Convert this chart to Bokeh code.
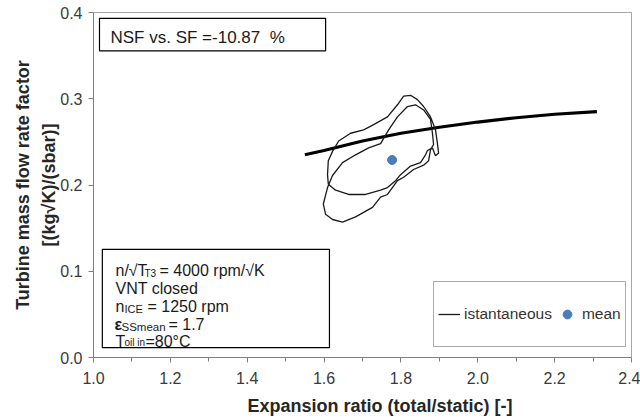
from bokeh.plotting import figure
from bokeh.models import (Label, BoxAnnotation, Legend, LegendItem, Range1d,
                          FixedTicker, NumeralTickFormatter)
from bokeh.embed import file_html
from bokeh.resources import INLINE

# ---- data ----
# steady-flow (SF) characteristic curve
sf_x = [1.55, 1.60, 1.70, 1.80, 1.90, 2.00, 2.10, 2.20, 2.31]
sf_y = [0.235, 0.240, 0.251, 0.260, 0.267, 0.273, 0.278, 0.282, 0.285]

# instantaneous loop (two engine cycles)
loop_x = [1.882, 1.869, 1.864, 1.851, 1.825, 1.799, 1.786, 1.765, 1.747, 1.708,
          1.664, 1.630, 1.611, 1.609, 1.611, 1.622, 1.638, 1.669, 1.703, 1.729,
          1.765, 1.791, 1.807, 1.825, 1.843, 1.859, 1.877, 1.890, 1.895, 1.898,
          1.890, 1.882,
          1.877, 1.872, 1.859, 1.833, 1.807, 1.791, 1.765, 1.747, 1.726, 1.682,
          1.648, 1.622, 1.604, 1.598, 1.609, 1.622, 1.648, 1.682, 1.716, 1.747,
          1.768, 1.791, 1.817, 1.838, 1.859, 1.877, 1.882, 1.885, 1.877]
loop_y = [0.243, 0.240, 0.235, 0.226, 0.222, 0.212, 0.205, 0.197, 0.194, 0.189,
          0.189, 0.194, 0.201, 0.212, 0.228, 0.239, 0.251, 0.260, 0.264, 0.270,
          0.279, 0.293, 0.303, 0.304, 0.299, 0.291, 0.279, 0.264, 0.248, 0.237,
          0.234, 0.243,
          0.241, 0.228, 0.223, 0.218, 0.209, 0.205, 0.189, 0.186, 0.174, 0.163,
          0.157, 0.160, 0.166, 0.178, 0.197, 0.211, 0.226, 0.235, 0.243, 0.248,
          0.264, 0.279, 0.291, 0.293, 0.287, 0.276, 0.260, 0.247, 0.241]

mean_x = [1.777]
mean_y = [0.229]

x_ticks = [1.0, 1.2, 1.4, 1.6, 1.8, 2.0, 2.2, 2.4]
x_minor = [1.1, 1.3, 1.5, 1.7, 1.9, 2.1, 2.3]
y_ticks = [0.0, 0.1, 0.2, 0.3, 0.4]

x_label = "Expansion ratio (total/static) [-]"
y_label = "Turbine mass flow rate factor\n[(kg\u221aK)/(sbar)]"
nsf_text = "NSF vs. SF =-10.87\u00a0 %"

FONT = "Liberation Sans"

p = figure(width=640, height=418, x_range=Range1d(1.0, 2.4), y_range=Range1d(0.0, 0.4),
           output_backend="svg", toolbar_location=None,
           min_border_left=93, min_border_right=9, min_border_top=12, min_border_bottom=55)
p.background_fill_color = "white"
p.border_fill_color = "white"
p.outline_line_color = "#a6a6a6"
p.outline_line_width = 1
p.xgrid.visible = False
p.ygrid.visible = False

# axes
p.xaxis.ticker = FixedTicker(ticks=x_ticks, minor_ticks=x_minor)
p.yaxis.ticker = FixedTicker(ticks=y_ticks)
for ax in (p.xaxis[0], p.yaxis[0]):
    ax.formatter = NumeralTickFormatter(format="0.0")
    ax.axis_line_color = "#808080"
    ax.major_tick_line_color = "#808080"
    ax.minor_tick_line_color = "#808080"
    ax.major_tick_in = 0
    ax.major_tick_out = 5
    ax.minor_tick_in = 0
    ax.minor_tick_out = 4
    ax.major_label_text_font = FONT
    ax.major_label_text_font_size = "16px"
    ax.major_label_text_color = "#3a3a3a"
    ax.axis_label_text_font = FONT
    ax.axis_label_text_font_size = "18px"
    ax.axis_label_text_font_style = "bold"
    ax.axis_label_text_color = "#262626"
p.xaxis.axis_label = "\u00a0" * 7 + x_label
p.yaxis.axis_label = y_label
p.yaxis.axis_label_text_line_height = 1.3
p.xaxis.major_label_standoff = 9
p.xaxis.axis_label_standoff = 9
p.yaxis.major_label_standoff = 6
p.yaxis.axis_label_standoff = -2

# data
sf_r = p.line(sf_x, sf_y, line_color="black", line_width=3.2)
loop_r = p.line(loop_x, loop_y, line_color="#1a1a1a", line_width=1.3)
mean_r = p.scatter(mean_x, mean_y, size=9, fill_color="#4a7ebb", line_color="#4a7ebb")

# NSF box
p.add_layout(BoxAnnotation(left=1.0156, right=1.604, bottom=0.3556, top=0.3932,
                           fill_color="white", fill_alpha=1, line_color="black",
                           line_width=1.2, line_alpha=1))
p.add_layout(Label(x=1.0442, y=0.3715, text=nsf_text, text_font=FONT,
                   text_font_size="17px", text_baseline="middle", text_color="#1a1a1a"))

# operating condition box
p.add_layout(BoxAnnotation(left=1.023, right=1.614, bottom=0.0114, top=0.1254,
                           fill_color="white", fill_alpha=1, line_color="black",
                           line_width=1.2, line_alpha=1))
x0 = 1.0572
base = [0.1003, 0.0798, 0.0593, 0.0387, 0.0182]
pieces = [
    # (line, text, x_offset, size, y_offset, bold)
    (0, "n/\u221aT", 0, "16px", 0, False),
    (0, "T3", 29, "10px", -3, False),
    (0, "= 4000 rpm/\u221aK", 44, "16px", 0, False),
    (1, "VNT closed", 0, "16px", 0, False),
    (2, "n", 0, "16px", 0, False),
    (2, "ICE", 9, "11px", -3, False),
    (2, "= 1250 rpm", 32, "16px", 0, False),
    (3, "\u03b5", -1, "16px", 0, True),
    (3, "SSmean", 6, "11.5px", -3, False),
    (3, "= 1.7", 53, "16px", 0, False),
    (4, "T", 0, "16px", 0, False),
    (4, "oil in", 9, "10px", -1, False),
    (4, "=80\u00b0C", 30, "16px", 0, False),
]
for line, txt, xo, fs, yo, bold in pieces:
    p.add_layout(Label(x=x0, y=base[line], x_offset=xo, y_offset=yo, text=txt,
                       text_font=FONT, text_font_size=fs, text_baseline="alphabetic",
                       text_font_style="bold" if bold else "normal",
                       text_color="#1a1a1a"))

# legend
legend = Legend(items=[LegendItem(label="istantaneous", renderers=[loop_r]),
                       LegendItem(label="mean", renderers=[mean_r])],
                orientation="horizontal", location=(340, 10), padding=4, spacing=4,
                margin=0, glyph_width=22, glyph_height=56, label_height=56,
                label_standoff=4, label_text_font=FONT, label_text_font_size="15.5px",
                label_text_color="#333333", border_line_color="#595959",
                border_line_width=1, background_fill_color="white", background_fill_alpha=1)
p.add_layout(legend, "center")

open("out.html", "w").write(file_html(p, INLINE))
